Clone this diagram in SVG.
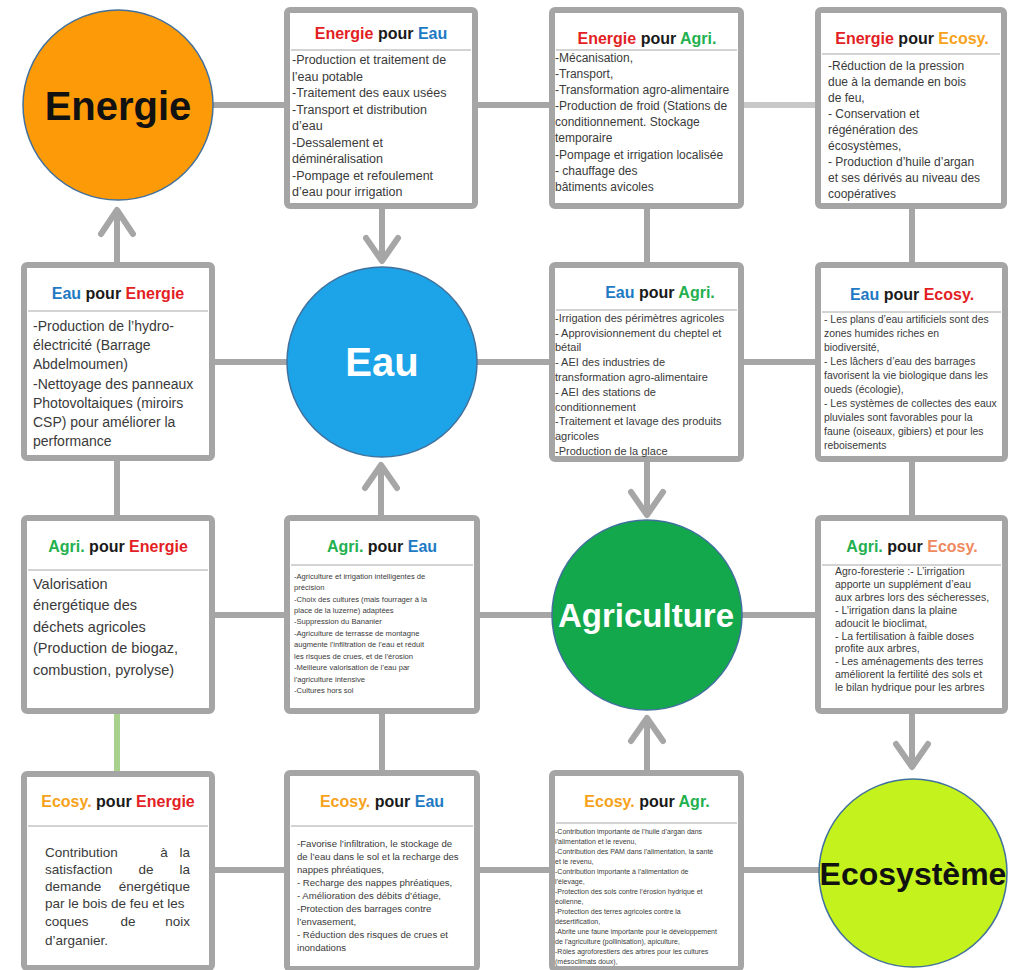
<svg xmlns="http://www.w3.org/2000/svg" width="1009" height="970" viewBox="0 0 1009 970">
<defs>
<style>
.frame{fill:#fff;stroke:#a5a5a5;stroke-width:6}
.sep{stroke:#c4c4c4;stroke-width:1.5}
.conn{stroke:#a6a6a6;stroke-width:6;fill:none}
.head{stroke:#a6a6a6;stroke-width:6;fill:none;stroke-linecap:round;stroke-linejoin:round}
.t{font-family:"Liberation Sans",Arial,sans-serif;font-weight:bold;font-size:16px;text-anchor:middle;fill:#1a1a1a}
.b{font-family:"Liberation Sans",Arial,sans-serif;fill:#3a3a3a}
.cl{font-family:"Liberation Sans",Arial,sans-serif;font-weight:bold;text-anchor:middle}
.circ{stroke:#41719c;stroke-width:1.5}
.r{fill:#e31e24}.bl{fill:#1f7ac4}.g{fill:#23b04f}.o{fill:#f7a21b}.c{fill:#ef8a5e}
</style>
</defs>

<g id="connectors">
<line class="conn" x1="213" y1="105" x2="287" y2="105"/>
<line class="conn" x1="475" y1="105" x2="552" y2="105"/>
<line class="conn" x1="741" y1="105" x2="818" y2="105" style="stroke:#c8c8c8"/>
<line class="conn" x1="212" y1="362" x2="287" y2="362"/>
<line class="conn" x1="477" y1="362" x2="552" y2="362"/>
<line class="conn" x1="741" y1="362" x2="818" y2="362"/>
<line class="conn" x1="212" y1="615" x2="287" y2="615"/>
<line class="conn" x1="477" y1="615" x2="552" y2="615"/>
<line class="conn" x1="741" y1="615" x2="818" y2="615"/>
<line class="conn" x1="212" y1="870" x2="287" y2="870"/>
<line class="conn" x1="477" y1="870" x2="552" y2="870"/>
<line class="conn" x1="741" y1="870" x2="822" y2="870"/>
<line class="conn" x1="117" y1="457" x2="117" y2="518"/>
<line class="conn" x1="117" y1="710" x2="117" y2="774" style="stroke:#a9d18e"/>
<line class="conn" x1="382" y1="710" x2="382" y2="773"/>
<line class="conn" x1="647" y1="206" x2="647" y2="265"/>
<line class="conn" x1="912" y1="206" x2="912" y2="265"/>
<line class="conn" x1="912" y1="459" x2="912" y2="518"/>
<line class="conn" x1="117" y1="265" x2="117" y2="212"/>
<polyline class="head" points="101,234 117,210 133,234"/>
<line class="conn" x1="382" y1="206" x2="382" y2="258"/>
<polyline class="head" points="366,238 382,261 398,238"/>
<line class="conn" x1="381" y1="518" x2="381" y2="467"/>
<polyline class="head" points="365,488 381,465 397,488"/>
<line class="conn" x1="647" y1="459" x2="647" y2="512"/>
<polyline class="head" points="631,492 647,515 663,492"/>
<line class="conn" x1="647" y1="773" x2="647" y2="720"/>
<polyline class="head" points="631,741 647,718 663,741"/>
<line class="conn" x1="912" y1="710" x2="912" y2="764"/>
<polyline class="head" points="896,744 912,767 928,744"/>
</g>

<g id="energie">
<circle class="circ" cx="118" cy="105" r="95" fill="#fd9a08"/>
<text class="cl" x="118" y="120" font-size="40" fill="#111">Energie</text>
</g>
<g id="eau">
<circle class="circ" cx="382" cy="362" r="95" fill="#1ca3e8"/>
<text class="cl" x="382" y="376" font-size="40" fill="#fff">Eau</text>
</g>
<g id="agriculture">
<circle class="circ" cx="647" cy="615" r="95" fill="#12a84b"/>
<text class="cl" x="646" y="627" font-size="33" fill="#fff">Agriculture</text>
</g>
<g id="ecosysteme">
<circle class="circ" cx="913" cy="873" r="94" fill="#c3f21d"/>
<text class="cl" x="913" y="885" font-size="32" fill="#111">Ecosystème</text>
</g>

<g id="energie-pour-eau">
<rect class="frame" x="287" y="10" width="188" height="196" rx="3"/>
<line class="sep" x1="291" y1="50" x2="471" y2="50"/>
<text class="t" x="381" y="39"><tspan class="r">Energie</tspan> pour <tspan class="bl">Eau</tspan></text>
<text class="b" font-size="12.5">
<tspan x="292" y="64">-Production et traitement de</tspan>
<tspan x="292" y="80.5">l’eau potable</tspan>
<tspan x="292" y="97">-Traitement des eaux usées</tspan>
<tspan x="292" y="113.5">-Transport  et distribution</tspan>
<tspan x="292" y="130">d’eau</tspan>
<tspan x="292" y="146.5">-Dessalement et</tspan>
<tspan x="292" y="163">déminéralisation</tspan>
<tspan x="292" y="179.5">-Pompage et refoulement</tspan>
<tspan x="292" y="196">d’eau pour irrigation</tspan>
</text>
</g>

<g id="energie-pour-agri">
<rect class="frame" x="552" y="10" width="189" height="196" rx="3"/>
<line class="sep" x1="556" y1="50" x2="737" y2="50"/>
<text class="t" x="647" y="44"><tspan class="r">Energie</tspan> pour <tspan class="g">Agri.</tspan></text>
<text class="b" font-size="12">
<tspan x="555" y="62">-Mécanisation,</tspan>
<tspan x="555" y="78">-Transport,</tspan>
<tspan x="555" y="94">-Transformation agro-alimentaire</tspan>
<tspan x="555" y="110">-Production de froid (Stations de</tspan>
<tspan x="555" y="126">conditionnement. Stockage</tspan>
<tspan x="555" y="142">temporaire</tspan>
<tspan x="555" y="159">-Pompage et irrigation localisée</tspan>
<tspan x="555" y="175">- chauffage des</tspan>
<tspan x="555" y="191">bâtiments avicoles</tspan>
</text>
</g>

<g id="energie-pour-ecosy">
<rect class="frame" x="818" y="10" width="186" height="196" rx="3"/>
<line class="sep" x1="822" y1="54" x2="1000" y2="54"/>
<text class="t" x="912" y="44"><tspan class="r">Energie</tspan> pour <tspan class="o">Ecosy.</tspan></text>
<text class="b" font-size="12">
<tspan x="828" y="70">-Réduction de la pression</tspan>
<tspan x="828" y="86">due à la demande en bois</tspan>
<tspan x="828" y="102">de feu,</tspan>
<tspan x="828" y="118">- Conservation et</tspan>
<tspan x="828" y="134">régénération des</tspan>
<tspan x="828" y="150">écosystèmes,</tspan>
<tspan x="828" y="166">- Production d’huile d’argan</tspan>
<tspan x="828" y="182">et ses dérivés au niveau des</tspan>
<tspan x="828" y="198">coopératives</tspan>
</text>
</g>

<g id="eau-pour-energie">
<rect class="frame" x="24" y="265" width="188" height="193" rx="3"/>
<line class="sep" x1="28" y1="311" x2="208" y2="311"/>
<text class="t" x="118" y="299"><tspan class="bl">Eau</tspan> pour <tspan class="r">Energie</tspan></text>
<text class="b" font-size="14">
<tspan x="33" y="331">-Production de l’hydro-</tspan>
<tspan x="33" y="350">électricité (Barrage</tspan>
<tspan x="33" y="369">Abdelmoumen)</tspan>
<tspan x="33" y="389">-Nettoyage des panneaux</tspan>
<tspan x="33" y="408">Photovoltaiques (miroirs</tspan>
<tspan x="33" y="427">CSP) pour améliorer la</tspan>
<tspan x="33" y="446">performance</tspan>
</text>
</g>

<g id="eau-pour-agri">
<rect class="frame" x="552" y="265" width="189" height="194" rx="3"/>
<line class="sep" x1="556" y1="310" x2="737" y2="310"/>
<text class="t" x="660" y="298"><tspan class="bl">Eau</tspan> pour <tspan class="g">Agri.</tspan></text>
<text class="b" font-size="11">
<tspan x="555" y="322">-Irrigation des périmètres agricoles</tspan>
<tspan x="555" y="337">- Approvisionnement du cheptel et</tspan>
<tspan x="555" y="351">bétail</tspan>
<tspan x="555" y="366">- AEI des industries de</tspan>
<tspan x="555" y="381">transformation agro-alimentaire</tspan>
<tspan x="555" y="396">- AEI des stations de</tspan>
<tspan x="555" y="411">conditionnement</tspan>
<tspan x="555" y="425">-Traitement et lavage des produits</tspan>
<tspan x="555" y="440">agricoles</tspan>
<tspan x="555" y="455">-Production de la glace</tspan>
</text>
</g>

<g id="eau-pour-ecosy">
<rect class="frame" x="818" y="265" width="187" height="194" rx="3"/>
<line class="sep" x1="822" y1="312" x2="1001" y2="312"/>
<text class="t" x="912" y="300"><tspan class="bl">Eau</tspan> pour <tspan class="r">Ecosy.</tspan></text>
<text class="b" font-size="10.4">
<tspan x="824" y="323">- Les plans d’eau artificiels sont des</tspan>
<tspan x="824" y="337">zones humides riches en</tspan>
<tspan x="824" y="351">biodiversité,</tspan>
<tspan x="824" y="365">- Les lâchers d’eau des barrages</tspan>
<tspan x="824" y="379">favorisent la vie biologique dans les</tspan>
<tspan x="824" y="393">oueds (écologie),</tspan>
<tspan x="824" y="407">- Les systèmes de collectes des eaux</tspan>
<tspan x="824" y="421">pluviales sont favorables pour la</tspan>
<tspan x="824" y="435">faune (oiseaux, gibiers)  et pour les</tspan>
<tspan x="824" y="449">reboisements</tspan>
</text>
</g>

<g id="agri-pour-energie">
<rect class="frame" x="24" y="518" width="188" height="193" rx="3"/>
<line class="sep" x1="28" y1="570" x2="208" y2="570"/>
<text class="t" x="118" y="552"><tspan class="g">Agri.</tspan> pour <tspan class="r">Energie</tspan></text>
<text class="b" font-size="14.5">
<tspan x="33" y="589">Valorisation</tspan>
<tspan x="33" y="610">énergétique des</tspan>
<tspan x="33" y="632">déchets agricoles</tspan>
<tspan x="33" y="653">(Production de biogaz,</tspan>
<tspan x="33" y="675">combustion, pyrolyse)</tspan>
</text>
</g>

<g id="agri-pour-eau">
<rect class="frame" x="287" y="518" width="190" height="193" rx="3"/>
<line class="sep" x1="291" y1="565" x2="473" y2="565"/>
<text class="t" x="382" y="552"><tspan class="g">Agri.</tspan> pour <tspan class="bl">Eau</tspan></text>
<text class="b" font-size="7.6">
<tspan x="294" y="579">-Agriculture et irrigation intelligentes de</tspan>
<tspan x="294" y="590">précision</tspan>
<tspan x="294" y="602">-Choix des cultures (mais fourrager  à la</tspan>
<tspan x="294" y="613">place de la luzerne)  adaptées</tspan>
<tspan x="294" y="624">-Suppression du Bananier</tspan>
<tspan x="294" y="636">-Agriculture de terrasse  de montagne</tspan>
<tspan x="294" y="647">augmente l’infiltration de l’eau et réduit</tspan>
<tspan x="294" y="659">les risques de crues, et de l’érosion</tspan>
<tspan x="294" y="670">-Meilleure valorisation  de l’eau par</tspan>
<tspan x="294" y="682">l’agriculture  intensive</tspan>
<tspan x="294" y="693">-Cultures hors sol</tspan>
</text>
</g>

<g id="agri-pour-ecosy">
<rect class="frame" x="818" y="518" width="187" height="193" rx="3"/>
<line class="sep" x1="822" y1="565" x2="1001" y2="565"/>
<text class="t" x="912" y="552"><tspan class="g">Agri.</tspan> pour <tspan class="c">Ecosy.</tspan></text>
<text class="b" font-size="10.5">
<tspan x="835" y="575">Agro-foresterie :- L’irrigation</tspan>
<tspan x="835" y="588">apporte un supplément d’eau</tspan>
<tspan x="835" y="601">aux arbres lors des sécheresses,</tspan>
<tspan x="835" y="614">- L’irrigation dans la plaine</tspan>
<tspan x="835" y="627">adoucit le bioclimat,</tspan>
<tspan x="835" y="640">- La fertilisation à faible doses</tspan>
<tspan x="835" y="652">profite aux arbres,</tspan>
<tspan x="835" y="665">- Les aménagements des terres</tspan>
<tspan x="835" y="678">améliorent la fertilité des sols et</tspan>
<tspan x="835" y="691">le bilan hydrique pour les arbres</tspan>
</text>
</g>

<g id="ecosy-pour-energie">
<rect class="frame" x="24" y="774" width="188" height="194" rx="3"/>
<line class="sep" x1="28" y1="826" x2="208" y2="826"/>
<text class="t" x="118" y="807"><tspan class="o">Ecosy.</tspan> pour <tspan class="r">Energie</tspan></text>
<g class="b" font-size="13.5">
<text x="45" y="857">Contribution</text><text x="164" y="857" text-anchor="middle">à</text><text x="190" y="857" text-anchor="end">la</text>
<text x="45" y="874">satisfaction</text><text x="146" y="874" text-anchor="middle">de</text><text x="190" y="874" text-anchor="end">la</text>
<text x="45" y="891">demande</text><text x="190" y="891" text-anchor="end">énergétique</text>
<text x="45" y="908">par le bois de feu et les</text>
<text x="45" y="926">coques</text><text x="128" y="926" text-anchor="middle">de</text><text x="190" y="926" text-anchor="end">noix</text>
<text x="45" y="945">d’arganier.</text>
</g>
</g>

<g id="ecosy-pour-eau">
<rect class="frame" x="287" y="773" width="190" height="196" rx="3"/>
<line class="sep" x1="291" y1="826" x2="473" y2="826"/>
<text class="t" x="382" y="807"><tspan class="o">Ecosy.</tspan> pour <tspan class="bl">Eau</tspan></text>
<text class="b" font-size="9.6">
<tspan x="297" y="847">-Favorise l’infiltration, le stockage de</tspan>
<tspan x="297" y="860">de l’eau dans le sol et la recharge des</tspan>
<tspan x="297" y="873">nappes phréatiques,</tspan>
<tspan x="297" y="886">- Recharge des nappes phréatiques,</tspan>
<tspan x="297" y="899">- Amélioration des débits d’étiage,</tspan>
<tspan x="297" y="912">-Protection des barrages contre</tspan>
<tspan x="297" y="925">l’envasement,</tspan>
<tspan x="297" y="938">- Réduction des risques de crues et</tspan>
<tspan x="297" y="951">inondations</tspan>
</text>
</g>

<g id="ecosy-pour-agr">
<rect class="frame" x="552" y="773" width="189" height="196" rx="3"/>
<line class="sep" x1="556" y1="823" x2="737" y2="823"/>
<text class="t" x="647" y="807"><tspan class="o">Ecosy.</tspan> pour <tspan class="g">Agr.</tspan></text>
<text class="b" font-size="7">
<tspan x="555" y="834">-Contribution  importante  de l’huile d’argan dans</tspan>
<tspan x="555" y="844">l’alimentation  et le revenu,</tspan>
<tspan x="555" y="854">-Contribution  des PAM dans l’alimentation,  la santé</tspan>
<tspan x="555" y="864">et le revenu,</tspan>
<tspan x="555" y="874">-Contribution  importante  à l’alimentation  de</tspan>
<tspan x="555" y="884">l’élevage,</tspan>
<tspan x="555" y="894">-Protection des sols contre l’érosion  hydrique et</tspan>
<tspan x="555" y="904">éolienne,</tspan>
<tspan x="555" y="914">-Protection des terres agricoles contre la</tspan>
<tspan x="555" y="924">désertification,</tspan>
<tspan x="555" y="934">-Abrite une faune importante  pour le développement</tspan>
<tspan x="555" y="944">de l’agriculture  (pollinisation),  apiculture,</tspan>
<tspan x="555" y="954">-Rôles agroforestiers  des arbres pour les cultures</tspan>
<tspan x="555" y="964">(mésoclimats doux),</tspan>
</text>
</g>
</svg>
